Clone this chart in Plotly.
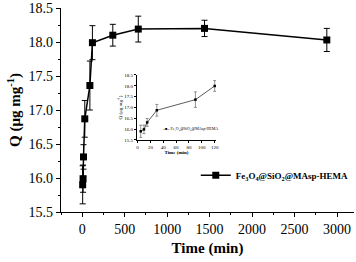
import plotly.graph_objects as go

time_min = [5, 10, 15, 30, 90, 120, 360, 660, 1440, 2880]
q_vals = [15.90, 15.99, 16.31, 16.87, 17.36, 17.99, 18.10, 18.19, 18.20, 18.03]
q_err = [0.28, 0.20, 0.18, 0.27, 0.36, 0.25, 0.16, 0.19, 0.12, 0.17]

inset_time = time_min[:6]
inset_q = q_vals[:6]
inset_err = q_err[:6]

series_name = "Fe<sub>3</sub>O<sub>4</sub>@SiO<sub>2</sub>@MAsp-HEMA"
font_family = "Liberation Serif, DejaVu Serif, serif"

fig = go.Figure()
fig.add_trace(go.Scatter(
    x=time_min, y=q_vals, mode="lines+markers", name="<b>" + series_name + "</b>",
    line=dict(color="black", width=1.5),
    marker=dict(symbol="square", size=7, color="black"),
    error_y=dict(type="data", array=q_err, color="black", thickness=1, width=3),
))
fig.add_trace(go.Scatter(
    x=inset_time, y=inset_q, mode="lines+markers", name=series_name,
    line=dict(color="#333", width=0.8),
    marker=dict(symbol="square", size=2.5, color="black"),
    error_y=dict(type="data", array=inset_err, color="#666", thickness=0.7, width=1.5),
    xaxis="x2", yaxis="y2", showlegend=False,
))

axis_common = dict(showline=True, linecolor="black", linewidth=1.2, ticks="outside",
                   tickcolor="black", showgrid=False, zeroline=False, mirror=False,
                   automargin=False)

fig.update_layout(
    width=356, height=262,
    margin=dict(l=61, r=2, t=8, b=50, autoexpand=False),
    paper_bgcolor="white", plot_bgcolor="white",
    font=dict(family=font_family, color="black"),
    xaxis=dict(range=[-250, 3200], tickvals=[0, 500, 1000, 1500, 2000, 2500, 3000],
               ticklen=4, tickfont=dict(size=14, family=font_family),
               minor=dict(ticks="outside", ticklen=2, dtick=250, tickcolor="black"),
               title=dict(text="<b>Time (min)</b>", font=dict(size=15, family=font_family), standoff=6),
               **axis_common),
    yaxis=dict(range=[15.5, 18.5], dtick=0.5, tickformat=".1f", ticklen=4,
               tickfont=dict(size=14, family=font_family),
               minor=dict(ticks="outside", ticklen=2, dtick=0.25, tickcolor="black"),
               title=dict(text="<b>Q (μg mg<sup>-1</sup>)</b>", font=dict(size=15, family=font_family), standoff=4),
               **axis_common),
    xaxis2=dict(domain=[0.259, 0.529], anchor="y2", range=[-1, 122],
                tickvals=[0, 20, 40, 60, 80, 100, 120], ticklen=2, tickwidth=0.7,
                tickfont=dict(size=5, family=font_family), tickangle=0,
                title=dict(text="<b>Time (min)</b>", font=dict(size=5, family=font_family), standoff=1),
                showline=True, linecolor="black", linewidth=0.7, ticks="outside",
                tickcolor="black", showgrid=False, zeroline=False, automargin=False),
    yaxis2=dict(domain=[0.353, 0.672], anchor="x2", range=[15.5, 18.5], dtick=0.5,
                tickformat=".1f", ticklen=2, tickwidth=0.7, tickfont=dict(size=5, family=font_family),
                title=dict(text="Q (μg mg<sup>-1</sup>)", font=dict(size=5, family=font_family), standoff=1),
                showline=True, linecolor="black", linewidth=0.7, ticks="outside",
                tickcolor="black", showgrid=False, zeroline=False, automargin=False),
    legend=dict(x=0.46, y=0.18, xanchor="left", yanchor="middle",
                bgcolor="rgba(0,0,0,0)", font=dict(size=9, family=font_family), itemwidth=30),
    annotations=[dict(
        text="<b>–■–</b> " + series_name, x=0.44, y=0.407, xref="paper", yref="paper",
        xanchor="center", yanchor="middle", showarrow=False,
        font=dict(size=4, family=font_family),
    )],
    showlegend=True,
)

fig.write_html("out.html", config={"displayModeBar": False},
               post_script="document.body.style.margin='0';document.body.style.padding='0';")
